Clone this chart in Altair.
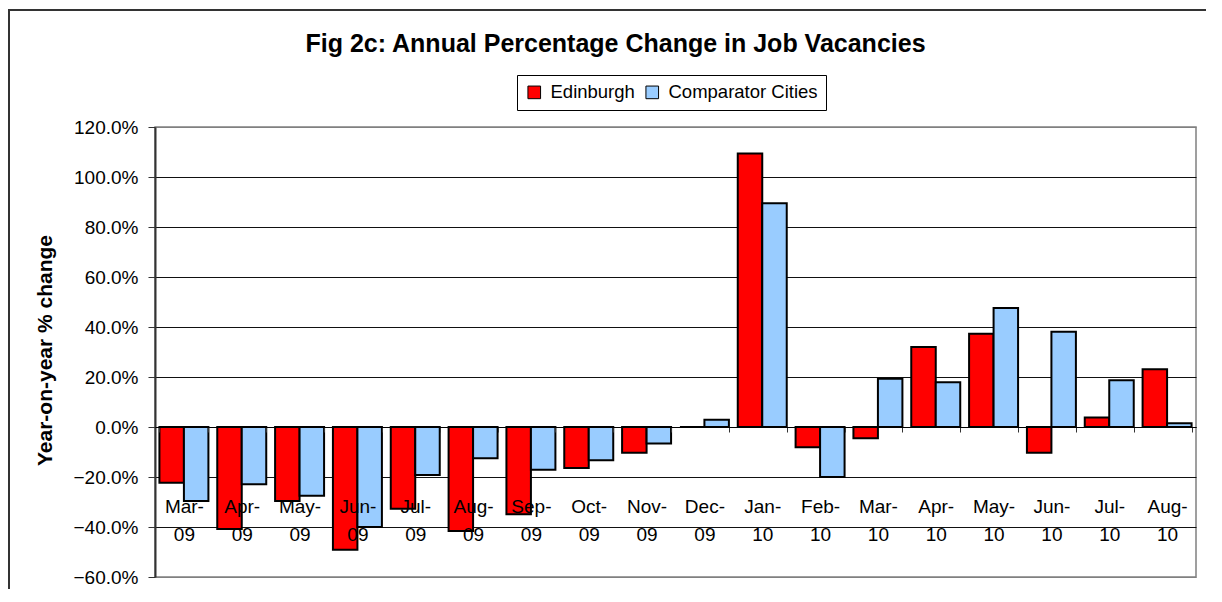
import altair as alt
import pandas as pd

# ---- data ----
months = ["Mar-09", "Apr-09", "May-09", "Jun-09", "Jul-09", "Aug-09", "Sep-09",
          "Oct-09", "Nov-09", "Dec-09", "Jan-10", "Feb-10", "Mar-10", "Apr-10",
          "May-10", "Jun-10", "Jul-10", "Aug-10"]
edinburgh = [-22.3, -40.8, -29.6, -49.1, -32.7, -41.6, -34.9, -16.4, -10.3, 0.0,
             109.4, -8.1, -4.5, 32.0, 37.3, -10.3, 3.8, 23.1]
comparator = [-29.6, -22.9, -27.5, -40.0, -19.2, -12.5, -17.1, -13.3, -6.6, 2.9,
              89.5, -20.0, 19.3, 17.9, 47.6, 38.1, 18.7, 1.5]
series = ["Edinburgh", "Comparator Cities"]
colors = ["#FF0000", "#99CCFF"]
y_ticks = [-60, -40, -20, 0, 20, 40, 60, 80, 100, 120]

rows = []
for m, e, c in zip(months, edinburgh, comparator):
    rows.append({"month": m, "series": series[0], "value": e})
    rows.append({"month": m, "series": series[1], "value": c})
df = pd.DataFrame(rows)

FONT = "Liberation Sans, Arial, sans-serif"
W, H = 1041, 450
PAD = {"left": 147, "top": 119, "right": 10, "bottom": 12}

bars = alt.Chart(df).mark_bar(stroke="black", strokeWidth=2).encode(
    x=alt.X("month:N", sort=months,
            scale=alt.Scale(paddingInner=0.153, paddingOuter=0.0765),
            axis=alt.Axis(title=None, orient="bottom", offset=-150, zindex=1,
                          domainColor="black", domainWidth=1,
                          tickBand="extent", tickSize=5, tickColor="#333",
                          labelAngle=0, labelFont=FONT, labelFontSize=19,
                          labelColor="black", labelPadding=65, labelLineHeight=28,
                          labelExpr="indexof(datum.label, '-') > 0 ? [split(datum.label, '-')[0] + '-', split(datum.label, '-')[1]] : ''")),
    xOffset=alt.XOffset("series:N", sort=series, scale=alt.Scale(paddingInner=0, paddingOuter=0)),
    y=alt.Y("value:Q",
            scale=alt.Scale(domain=[-60, 120], nice=False),
            axis=alt.Axis(values=y_ticks, title="Year-on-year % change",
                          titleFont=FONT, titleFontSize=21, titleFontWeight="bold",
                          titleColor="black", titleAngle=270, titleAlign="center",
                          titleBaseline="middle", titleX=-110, titleY=223,
                          labelExpr="format(datum.value, '.1f') + '%'",
                          labelFont=FONT, labelFontSize=19, labelColor="black",
                          labelPadding=10, tickSize=7, tickColor="#333",
                          domainColor="#333", domainWidth=2,
                          gridColor={"condition": {"test": "datum.value == 120 || datum.value == -60",
                                                   "value": "#808080"},
                                     "value": "#111"},
                          gridWidth=1)),
    color=alt.Color("series:N",
                    scale=alt.Scale(domain=series, range=colors),
                    legend=alt.Legend(title=None, orient="none", legendX=362, legendY=-52,
                                      direction="horizontal", strokeColor="black",
                                      fillColor="white", padding=8, symbolType="square",
                                      symbolSize=160, symbolStrokeColor="black",
                                      symbolStrokeWidth=1, labelFont=FONT, labelFontSize=18.5,
                                      labelColor="black", labelOffset=7, columnPadding=8)),
)

# outer chart frame drawn as two thin filled strips (top and left edges)
frame_src = pd.DataFrame({"f": [0]})
frame_top = alt.Chart(frame_src).mark_rect(fill="#333", strokeWidth=0).encode(
    x=alt.value(-147), x2=alt.value(W + PAD["right"]),
    y=alt.value(-118), y2=alt.value(-116)
)
frame_left = alt.Chart(frame_src).mark_rect(fill="#333", strokeWidth=0).encode(
    x=alt.value(-147), x2=alt.value(-145),
    y=alt.value(-118), y2=alt.value(H + PAD["bottom"])
)

chart = alt.layer(frame_top, frame_left, bars).properties(
    width=W, height=H,
    autosize=alt.AutoSizeParams(type="none"),
    padding=PAD,
    title=alt.Title("Fig 2c: Annual Percentage Change in Job Vacancies",
                    font=FONT, fontSize=25, fontWeight="bold", color="black",
                    anchor="middle", frame="group", dx=-60, offset=-68,
                    baseline="alphabetic"),
).configure_view(stroke="#808080", strokeWidth=1.5)

chart.save("out.html", embed_options={"renderer": "svg", "actions": False})
